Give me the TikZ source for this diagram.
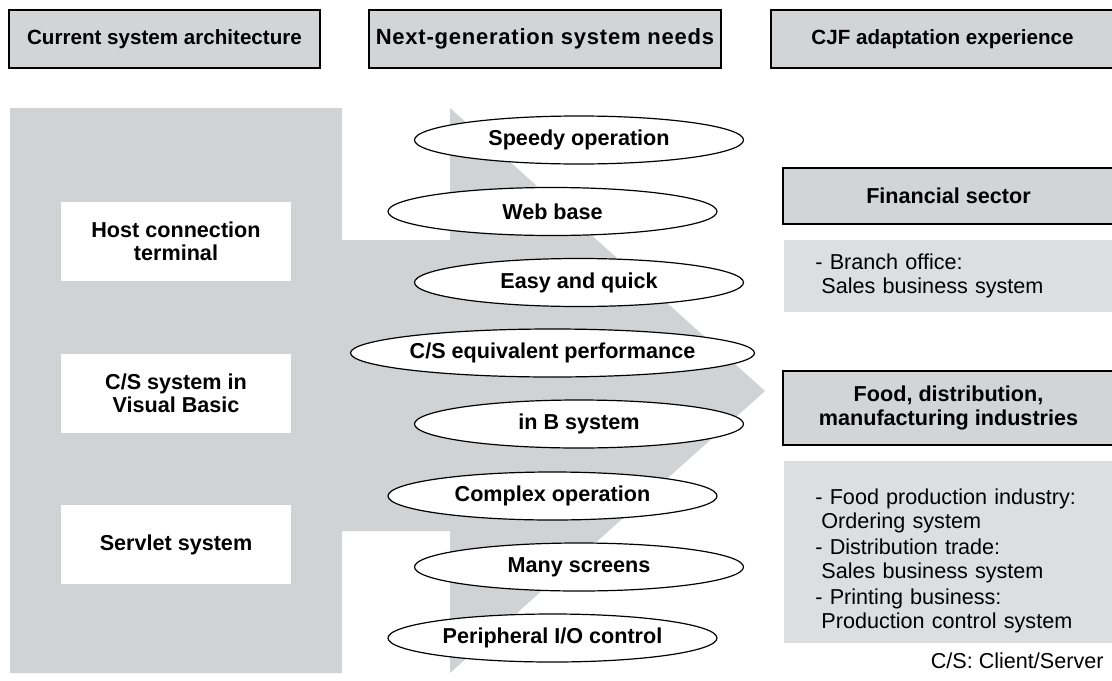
\documentclass[tikz,border=0pt]{standalone}
\usepackage{fontspec}
\setmainfont{Liberation Sans}
\newfontfamily\widefont[LetterSpace=3.5]{Liberation Sans}
\usepackage{tikz}
\usetikzlibrary{shapes.geometric}
\definecolor{panelgray}{RGB}{209,210,212}
\definecolor{headgray}{RGB}{211,212,214}
\definecolor{notegray}{RGB}{221,222,224}
\tikzstyle{headbox} = [draw, line width=1pt, fill=headgray, inner sep=0, minimum height=29pt, font=\fontsize{10.3pt}{12pt}\selectfont\bfseries]
\tikzstyle{sysbox} = [fill=white, inner sep=0, minimum width=115pt, minimum height=39.5pt, align=center, font=\fontsize{10.8pt}{11.5pt}\selectfont\bfseries]
\tikzstyle{needoval} = [draw, ellipse, fill=white, line width=0.6pt, inner sep=0, minimum width=164.5pt, minimum height=24pt, font=\fontsize{10.8pt}{12pt}\selectfont\bfseries]
\tikzstyle{sectorbox} = [draw, line width=1pt, fill=headgray, inner sep=0, minimum width=165.5pt, align=center, font=\fontsize{10.8pt}{12pt}\selectfont\bfseries]
\tikzstyle{notebox} = [fill=notegray, anchor=north west, inner xsep=15.5pt, inner ysep=0, text width=134pt, align=left, font=\fontsize{10.8pt}{12pt}\selectfont]

\begin{document}
\begin{tikzpicture}[x=0.5pt, y=-0.5pt]
      \useasboundingbox (0, 0) rectangle (1112, 680);

      % column headers
      \node[headbox, minimum width=155.5pt] (current) at (164.5, 39) {Current system architecture};
      \node[headbox, minimum width=176pt] (needs) at (545, 39) {\fontsize{11pt}{12pt}\widefont\bfseries Next-generation system needs};
      \node[headbox, minimum width=171.5pt] (experience) at (942.5, 39) {CJF adaptation experience};

      % big arrow behind the needs
      \fill[panelgray] (10, 108) -- (342, 108) -- (342, 240) -- (450, 240) -- (450, 108)
        -- (765, 391) -- (450, 673) -- (450, 531) -- (342, 531) -- (342, 673) -- (10, 673) -- cycle;

      \node[sysbox] (host) at (176, 241.5) {Host connection\\terminal};
      \node[sysbox] (vb) at (176, 393.5) {C/S system in\\Visual Basic};
      \node[sysbox] (servlet) at (176, 544.5) {Servlet system};

      \node[needoval] (speedy) at (579, 140) {Speedy operation};
      \node[needoval] (web) at (552.5, 211.5) {Web base};
      \node[needoval] (easy) at (579, 282.5) {Easy and quick};
      \node[needoval] (csperf) at (552.5, 353) {C/S equivalent performance};
      \node[needoval] (insys) at (579, 424) {in B system};
      \node[needoval] (complex) at (552.5, 496) {Complex operation};
      \node[needoval] (screens) at (579, 567) {Many screens};
      \node[needoval] (periph) at (552.5, 638) {Peripheral I/O control};

      % sectors
      \node[sectorbox, minimum height=28pt] (finance) at (948.5, 196) {Financial sector};
      \node[notebox, minimum height=36pt] (financenote) at (784, 240) {- Branch office:\\\hspace*{3pt}Sales business system};
      \node[sectorbox, minimum height=37pt] (food) at (948.5, 408) {Food, distribution,\\manufacturing industries};
      \node[notebox, minimum height=91pt] (foodnote) at (784, 461) {\rule{0pt}{16pt}- Food production industry:\\\hspace*{3pt}Ordering system\\[1pt]
        - Distribution trade:\\\hspace*{3pt}Sales business system\\[1pt]
        - Printing business:\\\hspace*{3pt}Production control system};

      \node[anchor=east, inner sep=0, font=\fontsize{10.8pt}{12pt}\selectfont] (legend) at (1104, 661) {C/S: Client/Server};
    \end{tikzpicture}
\end{document}
